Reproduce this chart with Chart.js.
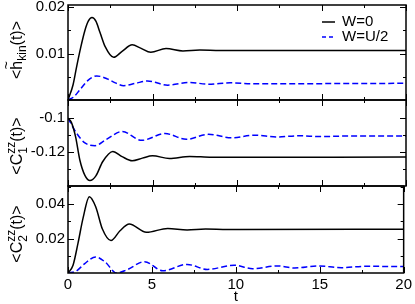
<!DOCTYPE html>
<html>
<head>
<meta charset="utf-8">
<script src="https://cdn.jsdelivr.net/npm/chart.js@4.4.1/dist/chart.umd.min.js"></script>
<style>
  html, body { margin: 0; padding: 0; background: #fff; }
  #wrap { position: relative; width: 415px; height: 304px; }
  #wrap canvas { position: absolute; left: 0; top: 0; }
</style>
</head>
<body>
<div id="wrap">
  <canvas id="p1" width="415" height="304"></canvas>
  <canvas id="p2" width="415" height="304"></canvas>
  <canvas id="p3" width="415" height="304"></canvas>
</div>
<script>
// --- data ---
const seriesNames = ["W=0", "W=U/2"];

// panel 1: <h~kin(t)>
const hkinT0 = [0, 0.3, 0.5, 0.75, 1.0, 1.2, 1.42, 1.65, 1.9, 2.2, 2.7, 3.2, 3.8, 4.3, 4.9, 5.8, 6.8, 7.8, 9, 20];
const hkinW0 = [0, 0.0033, 0.0070, 0.0113, 0.0150, 0.0170, 0.0178, 0.0170, 0.0145, 0.0115, 0.0092, 0.0105, 0.0119, 0.0112, 0.0103, 0.0111, 0.0106, 0.0108, 0.0107, 0.0107];
const hkinT1 = [0, 0.35, 0.7, 1.2, 1.7, 2.3, 2.8, 3.3, 4.0, 4.7, 5.9, 7.2, 8.3, 9.6, 11, 20];
const hkinWU = [0, 0.0007, 0.0022, 0.0043, 0.0052, 0.0046, 0.0037, 0.0031, 0.0036, 0.0041, 0.0032, 0.0038, 0.0034, 0.0037, 0.0035, 0.0036];

// panel 2: <C1zz(t)>
const c1T0 = [0, 0.2, 0.45, 0.7, 1.0, 1.3, 1.65, 2.05, 2.65, 3.2, 3.8, 4.4, 5.0, 6.0, 7.2, 8.5, 20];
const c1W0 = [-0.1, -0.1025, -0.111, -0.1245, -0.1335, -0.1365, -0.1338, -0.1255, -0.1195, -0.1225, -0.1249, -0.1234, -0.1220, -0.1236, -0.1224, -0.1229, -0.1228];
const c1T1 = [0, 0.5, 1.0, 1.6, 2.25, 3.2, 4.36, 5.74, 7.0, 8.3, 9.7, 11.0, 12.4, 13.7, 14.9, 16.5, 20];
const c1WU = [-0.1, -0.1087, -0.1145, -0.1161, -0.1126, -0.1078, -0.1130, -0.1090, -0.1124, -0.1095, -0.1115, -0.1100, -0.1110, -0.1103, -0.1108, -0.1105, -0.1105];

// panel 3: <C2zz(t)>
const c2T0 = [0, 0.3, 0.6, 0.9, 1.27, 1.65, 2.05, 2.56, 3.1, 3.65, 4.67, 5.94, 7.1, 8.2, 9.5, 20];
const c2W0 = [0, 0.0045, 0.0175, 0.032, 0.0443, 0.0385, 0.0255, 0.0188, 0.0245, 0.0284, 0.0236, 0.0259, 0.0250, 0.0255, 0.0253, 0.0254];
const c2T1 = [0, 0.5, 1.0, 1.65, 2.2, 2.9, 3.5, 4.56, 5.64, 7.1, 8.3, 9.9, 11, 12.5, 13.5, 14.9, 16.3, 17.7, 20];
const c2WU = [0, 0.0012, 0.0055, 0.0093, 0.0065, 0.0, 0.0018, 0.0066, 0.0013, 0.0050, 0.0021, 0.0045, 0.0025, 0.0041, 0.0029, 0.0041, 0.0031, 0.0039, 0.0037];

// ticks
const xMajor = [0, 5, 10, 15, 20];
const xMinor = [2.5, 7.5, 12.5, 17.5];
const y1Major = [0.01, 0.02], y1Minor = [0.005, 0.015], y1Labels = ["0.01", "0.02"];
const y2Major = [-0.1, -0.12], y2Minor = [-0.11, -0.13], y2Labels = ["-0.1", "-0.12"];
const y3Major = [0.02, 0.04], y3Minor = [0.01, 0.03, 0.05], y3Labels = ["0.02", "0.04"];

const FAMILY = "'Liberation Sans', Arial, sans-serif";
const FONT = "15px " + FAMILY;
const TFONT = "16px " + FAMILY;
const SMALL = "12px " + FAMILY;
const BLUE = "#0000ff";

function pts(ts, vs) { return ts.map((t, i) => ({ x: t, y: vs[i] })); }

function drawTitle(ctx, parts, cx, cy) {
    ctx.save();
    ctx.translate(cx, cy);
    ctx.rotate(-Math.PI / 2);
    ctx.textBaseline = "alphabetic";
    ctx.textAlign = "left";
    let w = 0;
    parts.forEach(p => {
        if (p.t !== undefined) {
            ctx.font = p.small ? SMALL : TFONT;
            p.w = ctx.measureText(p.t).width;
        } else {
            ctx.font = SMALL;
            p.w = Math.max(ctx.measureText(p.sup).width, ctx.measureText(p.sub).width);
        }
        w += p.w;
    });
    let x = -w / 2;
    parts.forEach(p => {
        if (p.t !== undefined) {
            ctx.font = p.small ? SMALL : TFONT;
            ctx.fillText(p.t, x, p.dy || 0);
            if (p.tilde) {
                ctx.font = "14px " + FAMILY;
                ctx.textAlign = "center";
                ctx.fillText("~", x + p.w / 2, -11);
                ctx.textAlign = "left";
            }
        } else {
            ctx.font = SMALL;
            ctx.fillText(p.sup, x, -7);
            ctx.fillText(p.sub, x, 5);
        }
        x += p.w;
    });
    ctx.restore();
}

function framePlugin(cfg) {
    return {
        id: "frame",
        afterDraw(chart) {
            const { ctx, chartArea: a } = chart;
            const x = chart.scales.x, y = chart.scales.y;
            ctx.save();
            ctx.strokeStyle = "#000";
            ctx.lineWidth = 1.5;
            ctx.strokeRect(a.left, a.top, a.right - a.left, a.bottom - a.top);
            ctx.lineWidth = 1;
            ctx.beginPath();
            const tx = (vals, len) => vals.forEach(v => {
                const px = Math.round(x.getPixelForValue(v)) + 0.5;
                ctx.moveTo(px, a.top); ctx.lineTo(px, a.top + len);
                ctx.moveTo(px, a.bottom); ctx.lineTo(px, a.bottom - len);
            });
            const ty = (vals, len) => vals.forEach(v => {
                const py = Math.round(y.getPixelForValue(v)) + 0.5;
                ctx.moveTo(a.left, py); ctx.lineTo(a.left + len, py);
                ctx.moveTo(a.right, py); ctx.lineTo(a.right - len, py);
            });
            tx(xMajor, 6); tx(xMinor, 3);
            ty(cfg.major, 6); ty(cfg.minor, 3);
            ctx.stroke();

            ctx.fillStyle = "#000";
            ctx.font = FONT;
            ctx.textAlign = "right";
            ctx.textBaseline = "middle";
            cfg.major.forEach((v, i) => ctx.fillText(cfg.labels[i], a.left - 3, y.getPixelForValue(v)));

            drawTitle(ctx, cfg.title, 22, cfg.titleY);

            if (cfg.xTitle) {
                ctx.textAlign = "center";
                ctx.fillText(cfg.xTitle, x.getPixelForValue(10), 297);
            }

            if (cfg.legend) {
                ctx.lineWidth = 1.5;
                ctx.strokeStyle = "#000";
                ctx.beginPath(); ctx.moveTo(322, 22); ctx.lineTo(335, 22); ctx.stroke();
                ctx.strokeStyle = BLUE;
                ctx.setLineDash([4, 3]);
                ctx.beginPath(); ctx.moveTo(322, 37); ctx.lineTo(336, 37); ctx.stroke();
                ctx.setLineDash([]);
                ctx.textAlign = "left";
                ctx.fillText(seriesNames[0], 342, 22);
                ctx.fillText(seriesNames[1], 342, 37);
            }
            ctx.restore();
        }
    };
}

function makePanel(id, d0, d1, ymin, ymax, top, bottom, cfg, showX) {
    const lineBase = { pointRadius: 0, fill: false, borderWidth: 1.5, cubicInterpolationMode: "monotone" };
    const xScale = {
        type: "linear", min: 0, max: 20, display: showX,
        grid: { display: false, drawTicks: false },
        border: { display: false },
        ticks: { stepSize: 5, font: { size: 15, family: FAMILY }, color: "#000", padding: 3, maxRotation: 0 }
    };
    if (showX) xScale.afterFit = s => { s.height = 304 - bottom; };
    new Chart(document.getElementById(id), {
        type: "line",
        data: {
            datasets: [
                Object.assign({ label: seriesNames[0], data: d0, borderColor: "#000" }, lineBase),
                Object.assign({ label: seriesNames[1], data: d1, borderColor: BLUE, borderDash: [6, 3] }, lineBase)
            ]
        },
        options: {
            responsive: false,
            animation: false,
            events: [],
            layout: { padding: { left: 68, right: 9, top: top, bottom: showX ? 0 : 304 - bottom } },
            plugins: { legend: { display: false }, tooltip: { enabled: false } },
            scales: {
                x: xScale,
                y: { type: "linear", min: ymin, max: ymax, display: false }
            }
        },
        plugins: [framePlugin(cfg)]
    });
}

makePanel("p1", pts(hkinT0, hkinW0), pts(hkinT1, hkinWU), 0, 0.0205, 5, 100, {
    major: y1Major, minor: y1Minor, labels: y1Labels, titleY: 50, legend: true,
    title: [{ t: "<" }, { t: "h", tilde: true }, { t: "kin", small: true, dy: 4 }, { t: "(t)>" }]
}, false);

makePanel("p2", pts(c1T0, c1W0), pts(c1T1, c1WU), -0.1397, -0.0894, 100, 186, {
    major: y2Major, minor: y2Minor, labels: y2Labels, titleY: 146,
    title: [{ t: "<" }, { t: "C" }, { sup: "zz", sub: "1" }, { t: "(t)>" }]
}, false);

makePanel("p3", pts(c2T0, c2W0), pts(c2T1, c2WU), 0, 0.0505, 186, 273, {
    major: y3Major, minor: y3Minor, labels: y3Labels, titleY: 234, xTitle: "t",
    title: [{ t: "<" }, { t: "C" }, { sup: "zz", sub: "2" }, { t: "(t)>" }]
}, true);
</script>
</body>
</html>
